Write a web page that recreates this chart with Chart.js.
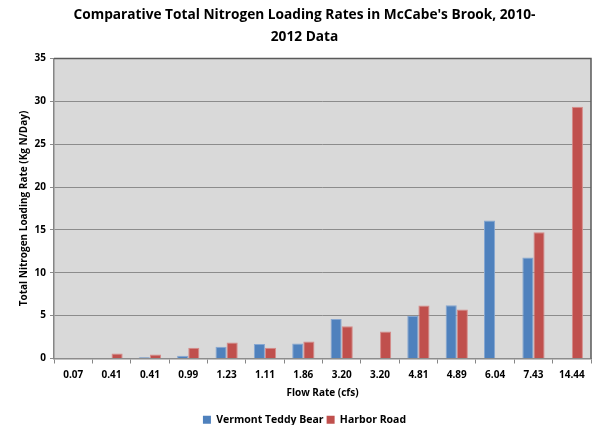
<!DOCTYPE html>
<html>
<head>
<meta charset="utf-8">
<script src="https://cdn.jsdelivr.net/npm/chart.js@4/dist/chart.umd.min.js"></script>
<style>
  html, body { margin: 0; padding: 0; background: #ffffff; }
  #wrap { width: 594px; height: 425px; position: relative; }
</style>
</head>
<body>
<div id="wrap"><canvas id="chart" width="594" height="425"></canvas></div>
<script>
// Flow rate (cfs) for each sampling event
const flowRates = ['0.07', '0.41', '0.41', '0.99', '1.23', '1.11', '1.86', '3.20', '3.20', '4.81', '4.89', '6.04', '7.43', '14.44'];
// Total nitrogen loading (kg N/day) per site
const vermontTeddyBear = [0, 0, 0.16, 0.31, 1.37, 1.68, 1.76, 4.6, 0, 4.96, 6.21, 16.08, 11.79, 0];
const harborRoad = [0.03, 0.59, 0.47, 1.25, 1.87, 1.25, 1.99, 3.75, 3.16, 6.17, 5.70, 0, 14.71, 29.35];
const yTicks = [0, 5, 10, 15, 20, 25, 30, 35];

const FONT = '"Open Sans", "Liberation Sans", sans-serif';

// Grey plot-area fill and frame
const plotFrame = {
  id: 'plotFrame',
  beforeDraw(chart) {
    const a = chart.chartArea, ctx = chart.ctx;
    ctx.save();
    ctx.fillStyle = '#d9d9d9';
    ctx.fillRect(a.left, a.top, a.right - a.left, a.bottom - a.top);
    ctx.restore();
  },
  afterDraw(chart) {
    const a = chart.chartArea, ctx = chart.ctx;
    ctx.save();
    ctx.strokeStyle = '#5a5a5a';
    ctx.lineWidth = 1.5;
    ctx.beginPath();
    ctx.moveTo(a.left, a.top);
    ctx.lineTo(a.right, a.top);
    ctx.lineTo(a.right, a.bottom);
    ctx.stroke();
    ctx.restore();
  }
};

new Chart(document.getElementById('chart'), {
  type: 'bar',
  data: {
    labels: flowRates,
    datasets: [
      {
        label: 'Vermont Teddy Bear',
        data: vermontTeddyBear,
        backgroundColor: '#4f81bd',
        borderColor: '#86a7d2',
        borderWidth: 1,
        categoryPercentage: 0.58,
        barPercentage: 1.0
      },
      {
        label: 'Harbor Road',
        data: harborRoad,
        backgroundColor: '#c0504d',
        borderColor: '#d78b89',
        borderWidth: 1,
        categoryPercentage: 0.58,
        barPercentage: 1.0
      }
    ]
  },
  options: {
    responsive: false,
    animation: false,
    layout: { padding: { left: 18, right: 3, top: 0, bottom: -10 } },
    plugins: {
      title: {
        display: true,
        text: ["Comparative Total Nitrogen Loading Rates in McCabe's Brook, 2010-", '2012 Data'],
        color: '#000000',
        font: { family: FONT, size: 13.7, weight: 'bold', lineHeight: 1.62 },
        padding: { top: 4, bottom: 10 }
      },
      legend: {
        position: 'bottom',
        labels: {
          color: '#000000',
          font: { family: FONT, size: 10.5, weight: 'bold' },
          boxWidth: 8,
          boxHeight: 8,
          padding: 3,
          generateLabels(chart) {
            return chart.data.datasets.map((d, i) => ({
              text: d.label,
              fillStyle: d.backgroundColor,
              strokeStyle: d.backgroundColor,
              lineWidth: 0,
              datasetIndex: i
            }));
          }
        }
      },
      tooltip: { enabled: false }
    },
    scales: {
      x: {
        grid: {
          display: true,
          drawOnChartArea: false,
          drawTicks: true,
          tickLength: 5,
          color: '#868686',
          offset: true
        },
        border: { display: true, color: '#868686', width: 1.5 },
        ticks: {
          color: '#000000',
          font: { family: FONT, size: 10, weight: 'bold' },
          maxRotation: 0,
          autoSkip: false,
          padding: 6
        },
        title: {
          display: true,
          text: 'Flow Rate (cfs)',
          color: '#000000',
          font: { family: FONT, size: 10, weight: 'bold' },
          padding: { top: 0, bottom: 12 }
        }
      },
      y: {
        min: 0,
        max: 35,
        afterBuildTicks(scale) {
          scale.ticks = yTicks.map(v => ({ value: v }));
        },
        afterFit(scale) { scale.width = 36; },
        grid: {
          color: '#8c8c8c',
          lineWidth: 1,
          drawTicks: true,
          tickLength: 4,
          z: 0
        },
        border: { display: true, color: '#868686', width: 1.5 },
        ticks: {
          color: '#000000',
          font: { family: FONT, size: 10, weight: 'bold' },
          padding: 4
        },
        title: {
          display: true,
          text: 'Total Nitrogen Loading Rate (Kg N/Day)',
          color: '#000000',
          font: { family: FONT, size: 10, weight: 'bold' },
          padding: { top: 0, bottom: 2 }
        }
      }
    }
  },
  plugins: [plotFrame]
});
</script>
</body>
</html>
